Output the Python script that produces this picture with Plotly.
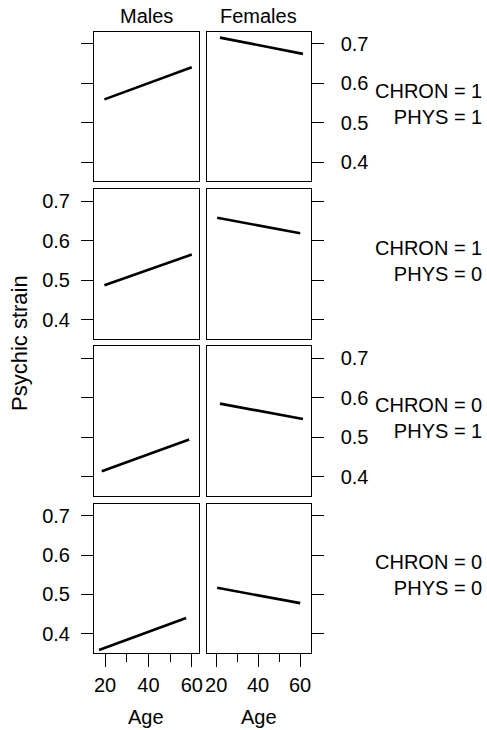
import plotly.graph_objects as go
from plotly.subplots import make_subplots

# ---- data ----
sexes = ["Males", "Females"]
row_labels = ["CHRON = 1<br>PHYS = 1", "CHRON = 1<br>PHYS = 0",
              "CHRON = 0<br>PHYS = 1", "CHRON = 0<br>PHYS = 0"]
male_age = [[19.7, 60.0], [19.7, 60.0], [18.5, 58.8], [17.2, 57.4]]
male_strain = [[0.559, 0.640], [0.487, 0.565], [0.414, 0.494], [0.359, 0.440]]
female_age = [[21.8, 61.4], [20.5, 60.1], [21.8, 61.4], [20.5, 60.1]]
female_strain = [[0.715, 0.674], [0.658, 0.619], [0.585, 0.546], [0.517, 0.478]]
y_ticks = [0.4, 0.5, 0.6, 0.7]
x_ticks = [20, 40, 60]
x_minor = [30, 50]
x_range_m = [14.9, 63.1]
x_range_f = [15.4, 65.1]
y_range = [0.352, 0.730]

W, H = 487, 730
FONT = "Liberation Sans, Arial, Helvetica, sans-serif"
FS = 20

# panel geometry in px
col_px = [(94.0, 198.5), (206.5, 310.7)]
row_px = [(31.7, 181.3), (189.3, 338.7), (346.3, 495.7), (504.0, 652.7)]

fig = make_subplots(rows=4, cols=2)

ages = [male_age, female_age]
vals = [male_strain, female_strain]
for r in range(4):
    for c in range(2):
        fig.add_trace(go.Scatter(x=ages[c][r], y=vals[c][r], mode="lines",
                                 line=dict(color="black", width=2.6),
                                 showlegend=False, hoverinfo="skip"),
                      row=r + 1, col=c + 1)

for r in range(4):
    for c in range(2):
        idx = r * 2 + c + 1
        xa = "xaxis" if idx == 1 else f"xaxis{idx}"
        ya = "yaxis" if idx == 1 else f"yaxis{idx}"
        x0, x1 = col_px[c]
        t, b = row_px[r]
        bottom = (r == 3)
        fig.layout[xa].update(
            domain=[x0 / W, x1 / W], range=x_range_m if c == 0 else x_range_f,
            showline=True, mirror=True, linecolor="black", linewidth=1,
            showgrid=False, zeroline=False, automargin=False,
            ticks="outside" if bottom else "", ticklen=13, tickwidth=1,
            tickcolor="black", tickvals=x_ticks,
            showticklabels=bottom, ticklabelstandoff=1,
            tickfont=dict(family=FONT, size=FS, color="black"),
            minor=dict(tickvals=x_minor, ticks="outside" if bottom else "",
                       ticklen=8, tickwidth=1, tickcolor="black"),
        )
        show_lab = (c == 0 and r in (1, 3)) or (c == 1 and r in (0, 2))
        fig.layout[ya].update(
            domain=[1 - b / H, 1 - t / H], range=y_range,
            side="left" if c == 0 else "right",
            showline=True, mirror=True, linecolor="black", linewidth=1,
            showgrid=False, zeroline=False, automargin=False,
            ticks="outside", ticklen=12, tickwidth=1, tickcolor="black",
            tickvals=y_ticks, ticktext=[str(v) for v in y_ticks],
            showticklabels=show_lab, ticklabelstandoff=7 if c == 0 else 13,
            tickfont=dict(family=FONT, size=FS, color="black"),
        )

ann = []
for c, s in enumerate(sexes):
    x0, x1 = col_px[c]
    ann.append(dict(x=(x0 + x1) / 2 / W, y=1 - 16 / H, text=s, showarrow=False,
                    xref="paper", yref="paper", xanchor="center", yanchor="middle",
                    font=dict(family=FONT, size=FS, color="black")))
    ann.append(dict(x=(x0 + x1) / 2 / W, y=1 - 717 / H, text="Age", showarrow=False,
                    xref="paper", yref="paper", xanchor="center", yanchor="middle",
                    font=dict(family=FONT, size=FS, color="black")))
for r, lab in enumerate(row_labels):
    t, b = row_px[r]
    ann.append(dict(x=483.5 / W, y=1 - ((t + b) / 2 - 3) / H, text=lab, showarrow=False,
                    xref="paper", yref="paper", xanchor="right", yanchor="middle",
                    align="right", font=dict(family=FONT, size=FS, color="black")))
ann.append(dict(x=19 / W, y=1 - 343 / H, text="Psychic strain", showarrow=False,
                xref="paper", yref="paper", xanchor="center", yanchor="middle",
                textangle=-90, font=dict(family=FONT, size=22, color="black")))

fig.update_layout(width=W, height=H, margin=dict(l=0, r=0, t=0, b=0),
                  template="none", paper_bgcolor="white", plot_bgcolor="white",
                  annotations=ann, showlegend=False,
                  font=dict(family=FONT, size=FS, color="black"))

fig.write_html("out.html", config={"displayModeBar": False},
               post_script="document.body.style.margin='0px';document.body.style.overflow='hidden';")
